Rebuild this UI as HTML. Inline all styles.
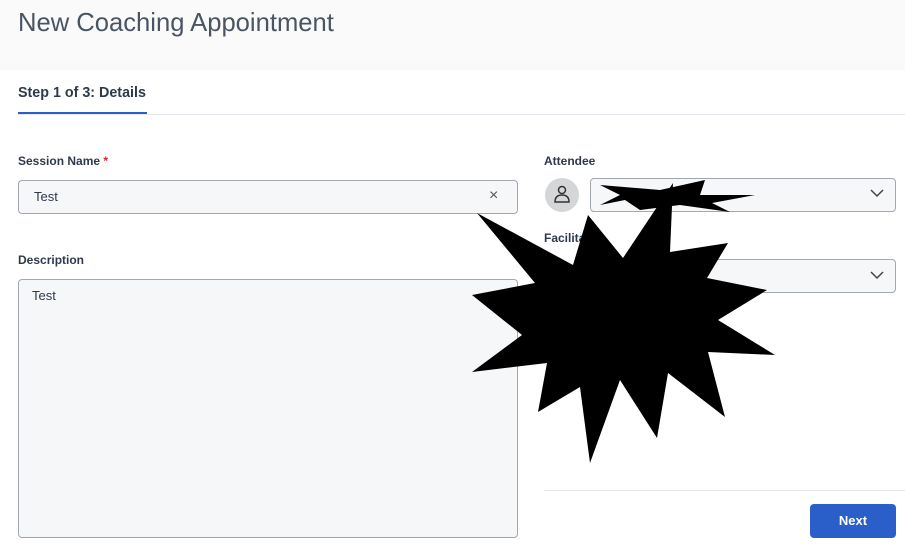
<!DOCTYPE html>
<html><head><meta charset="utf-8"><style>
body{margin:0;width:905px;height:551px;background:#fafafb;font-family:"Liberation Sans",sans-serif;position:relative;overflow:hidden;color:#2e3a4a}
.a{position:absolute}
.lbl{font-size:12px;font-weight:bold;color:#2e3a4a}
.box{background:#f6f7f9;border:1px solid #a3a8b0;border-radius:4px;box-sizing:border-box}
</style></head><body>
<div class="a" style="left:18px;top:9px;font-size:25.6px;color:#4a5564">New Coaching Appointment</div>
<div class="a" style="left:0;top:70px;width:905px;height:481px;background:#fff"></div>
<div class="a" style="left:18px;top:114px;width:887px;height:1px;background:#e4e7eb"></div>
<div class="a lbl" style="left:18px;top:85px;font-size:14.3px">Step 1 of 3: Details</div>
<div class="a" style="left:18px;top:112px;width:129px;height:2px;background:#2a5fc9"></div>
<div class="a lbl" style="left:18px;top:154px">Session Name <span style="color:#e02020">*</span></div>
<div class="a box" style="left:18px;top:180px;width:500px;height:34px"></div>
<div class="a" style="left:34px;top:189px;font-size:13px">Test</div>
<div class="a" style="left:489px;top:187px;font-size:16px;color:#555">×</div>
<div class="a lbl" style="left:18px;top:253px">Description</div>
<div class="a box" style="left:18px;top:279px;width:500px;height:259px"></div>
<div class="a" style="left:32px;top:288px;font-size:13px">Test</div>
<div class="a lbl" style="left:544px;top:154px">Attendee</div>
<div class="a" style="left:545px;top:178px;width:34px;height:34px;border-radius:50%;background:#d5d6d8"></div>
<svg class="a" style="left:553px;top:185px" width="18" height="20"><circle cx="9" cy="5" r="3.5" fill="none" stroke="#333" stroke-width="1.5"/><path d="M2 17 Q2 10 9 10 Q16 10 16 17 Z" fill="none" stroke="#333" stroke-width="1.5"/></svg>
<div class="a box" style="left:590px;top:178px;width:306px;height:34px"></div>
<div class="a lbl" style="left:544px;top:231px">Facilitator</div>
<div class="a box" style="left:590px;top:259px;width:306px;height:34px"></div>
<svg class="a" style="left:870px;top:188px" width="14" height="10"><path d="M1 2 L7 8 L13 2" fill="none" stroke="#444" stroke-width="1.5"/></svg>
<svg class="a" style="left:870px;top:270px" width="14" height="10"><path d="M1 2 L7 8 L13 2" fill="none" stroke="#444" stroke-width="1.5"/></svg>
<div class="a" style="left:544px;top:490px;width:361px;height:1px;background:#e4e7eb"></div>
<div class="a" style="left:810px;top:504px;width:86px;height:34px;background:#2a5fc9;border-radius:4px;color:#fff;font-size:13px;font-weight:bold;text-align:center;line-height:34px">Next</div>
<svg class="a" style="left:0;top:0" width="905" height="551">
<polygon fill="#000" points="673,183 670,252 728,243 707,278 767,290 718,320 775,355 708,352 725,417 668,373 657,438 620,380 590,463 580,387 538,412 547,363 472,372 522,335 472,295 535,283 477,213 573,265 588,215 623,258"/>
<polygon fill="#000" points="600,185 660,190 705,180 700,195 755,195 712,203 730,212 680,205 640,210 625,200 600,205 620,195"/>
</svg>
</body></html>
